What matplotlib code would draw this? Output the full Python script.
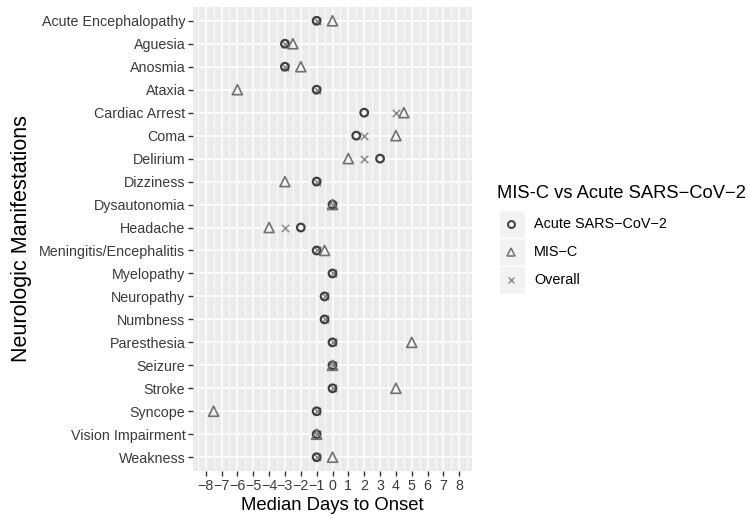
import numpy as np
import matplotlib
matplotlib.use('Agg')
import matplotlib.pyplot as plt
from matplotlib.patches import Rectangle
from matplotlib.lines import Line2D
from matplotlib.ticker import MultipleLocator

plt.rcParams['font.family'] = ['Liberation Sans', 'DejaVu Sans']

# manifestacoes neurologicas (de cima para baixo)
manifestacoes = ['Acute Encephalopathy', 'Aguesia', 'Anosmia', 'Ataxia', 'Cardiac Arrest',
                 'Coma', 'Delirium', 'Dizziness', 'Dysautonomia', 'Headache',
                 'Meningitis/Encephalitis', 'Myelopathy', 'Neuropathy', 'Numbness',
                 'Paresthesia', 'Seizure', 'Stroke', 'Syncope', 'Vision Impairment', 'Weakness']

# mediana de dias ate o inicio
acute = [-1, -3, -3, -1, 2, 1.5, 3, -1, 0, -2, -1, 0, -0.5, -0.5, 0, 0, 0, -1, -1, -1]
misc = [0, -2.5, -2, -6, 4.5, 4, 1, -3, 0, -4, -0.5, np.nan, np.nan, np.nan, 5, 0, 4, -7.5, -1, 0]
overall = [-1, -3, -3, -1, 4, 2, 2, -1, 0, -3, -1, 0, -0.5, -0.5, 0, 0, 0, -1, -1, -1]

x_ticks = list(range(-8, 9))

cor_circ = '#404040'
cor_tri = '#707070'
cor_x = '#8c8c8c'

fig = plt.figure(figsize=(7.47, 5.18), dpi=100)
ax = fig.add_axes([193/747, 1 - 471/518, (472 - 193)/747, (471 - 7)/518])
ax.set_facecolor('#EBEBEB')

y = np.arange(len(manifestacoes))
ax.scatter(overall, y, marker='x', s=28, color=cor_x, linewidths=1.1, zorder=3)
ax.scatter(acute, y, marker='o', s=30, facecolors='none', edgecolors=cor_circ, linewidths=1.6, zorder=4)
ax.scatter(misc, y, marker='^', s=52, facecolors='none', edgecolors=cor_tri, linewidths=1.2, zorder=5)

ax.set_xlim(-8.8, 8.8)
ax.set_ylim(len(manifestacoes) - 1 + 0.6, -0.6)
ax.set_xticks(x_ticks)
ax.set_xticklabels([str(t).replace('-', '\u2212') for t in x_ticks])
ax.xaxis.set_minor_locator(MultipleLocator(0.5))
ax.set_yticks(y)
ax.set_yticklabels(manifestacoes)

ax.grid(True, which='major', color='white', linewidth=1.1, zorder=0)
ax.grid(True, which='minor', axis='x', color='white', linewidth=0.6, zorder=0)
ax.set_axisbelow(True)
for s in ax.spines.values():
    s.set_visible(False)
ax.tick_params(axis='both', which='major', length=3.5, width=1.0, color='#333333',
               labelsize=10.3, labelcolor='#3a3a3a', pad=2)
ax.tick_params(axis='x', which='minor', length=0)

ax.set_xlabel('Median Days to Onset', fontsize=13.3, color='black', labelpad=3)
ax.set_ylabel('Neurologic Manifestations', fontsize=15.5, color='black', labelpad=5)

# legenda manual no estilo ggplot
fig.text(497/747, 1 - 193/518, 'MIS-C vs Acute SARS\u2212CoV\u22122', fontsize=13.2,
         va='center', ha='left')
rotulos = ['Acute SARS\u2212CoV\u22122', 'MIS\u2212C', 'Overall']
estilos = [dict(marker='o', markersize=5, markerfacecolor='none', markeredgecolor=cor_circ, markeredgewidth=1.4),
           dict(marker='^', markersize=6, markerfacecolor='none', markeredgecolor=cor_tri, markeredgewidth=1.1),
           dict(marker='x', markersize=5, color=cor_x, markeredgewidth=1.0)]
for i, (rot, est) in enumerate(zip(rotulos, estilos)):
    yc = 224 + i * 28
    fig.add_artist(Rectangle((499/747, 1 - (yc + 14)/518), 26/747, 28/518,
                             transform=fig.transFigure, facecolor='#F2F2F2', edgecolor='white'))
    fig.add_artist(Line2D([511/747], [1 - yc/518], linestyle='none', transform=fig.transFigure, **est))
    fig.text(534/747, 1 - yc/518, rot, fontsize=10.4, va='center', ha='left')

fig.savefig('out.png', dpi=100)
